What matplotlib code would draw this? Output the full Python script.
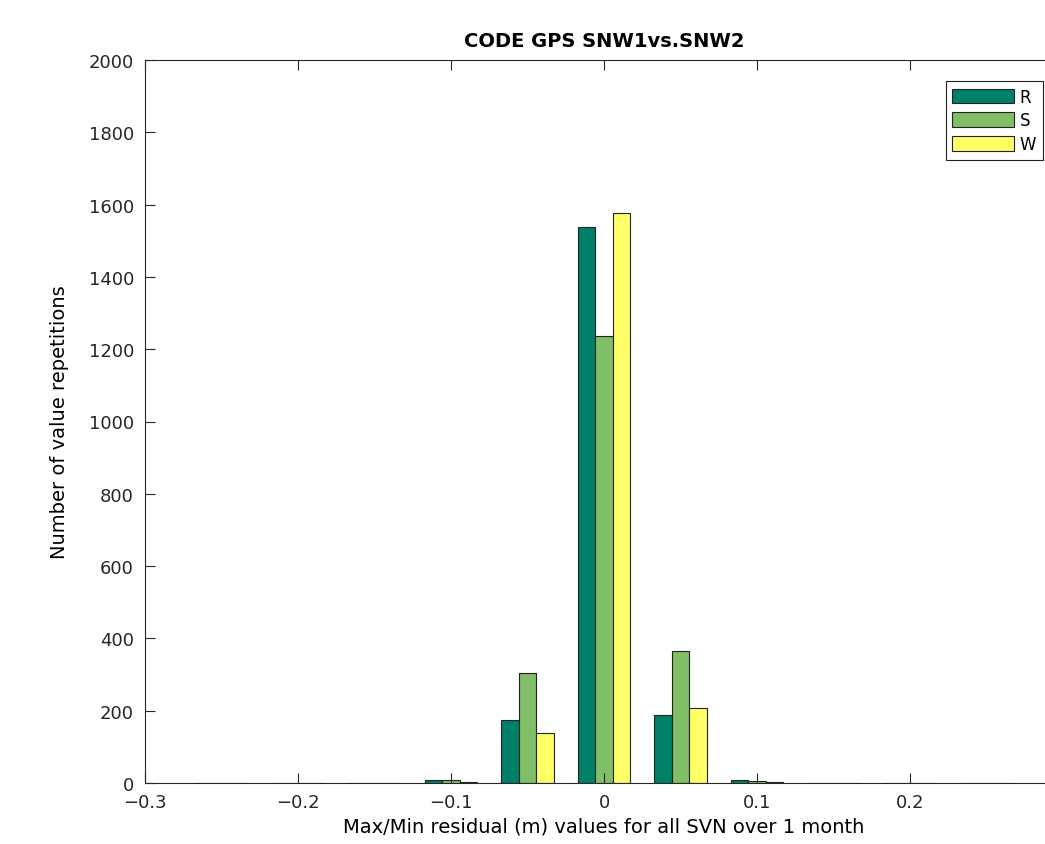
import matplotlib
matplotlib.use("Agg")
import matplotlib.pyplot as plt
import numpy as np

centers = [-0.25, -0.2, -0.15, -0.1, -0.05, 0.0, 0.05, 0.1, 0.15, 0.2, 0.25]
R = [1, 1, 1, 9, 175, 1538, 188, 7, 1, 1, 1]
S = [1, 1, 1, 7, 304, 1236, 365, 6, 1, 1, 1]
W = [1, 1, 1, 2, 138, 1577, 207, 2, 1, 1, 1]
series = {"R": R, "S": S, "W": W}
colors = {"R": "#008066", "S": "#80bf66", "W": "#ffff66"}

plt.rcParams['font.family'] = ['DejaVu Sans']
fig = plt.figure(figsize=(10.45, 8.45), dpi=100)
ax = fig.add_axes([145/1045, 61/845, 918/1045, 723/845])

bw = 0.0115
x = np.array(centers)
for i, (name, vals) in enumerate(series.items()):
    ax.bar(x + (i - 1) * bw, vals, width=bw, color=colors[name],
           edgecolor="#222222", linewidth=0.8, label=name)

ax.set_xlim(-0.3, 0.3)
ax.set_ylim(0, 2000)
ax.set_xticks([-0.3, -0.2, -0.1, 0, 0.1, 0.2, 0.3])
ax.set_xticklabels(["\u22120.3", "\u22120.2", "\u22120.1", "0", "0.1", "0.2", "0.3"])
ax.set_yticks(range(0, 2001, 200))
ax.tick_params(direction="in", top=True, right=True, labelsize=13, length=7,
               width=0.8, colors="#262626")
ax.tick_params(axis="x", pad=7)
ax.tick_params(axis="y", pad=8)
for s in ax.spines.values():
    s.set_color("#262626")
    s.set_linewidth(0.8)

ax.set_title("CODE GPS SNW1vs.SNW2", fontsize=14, fontweight="bold", pad=10)
ax.set_xlabel("Max/Min residual (m) values for all SVN over 1 month", fontsize=14, labelpad=4)
ax.set_ylabel("Number of value repetitions", fontsize=14, labelpad=14)

leg = ax.legend(loc="upper right", bbox_to_anchor=(1043/1045, 1 - 82/845),
                bbox_transform=fig.transFigure, fontsize=12, handlelength=3.7,
                handleheight=1.0, fancybox=False, framealpha=1, edgecolor="#222222",
                borderpad=0.4, labelspacing=0.35, handletextpad=0.35, borderaxespad=0)
leg.get_frame().set_linewidth(0.8)

fig.savefig("out.png", dpi=100)
